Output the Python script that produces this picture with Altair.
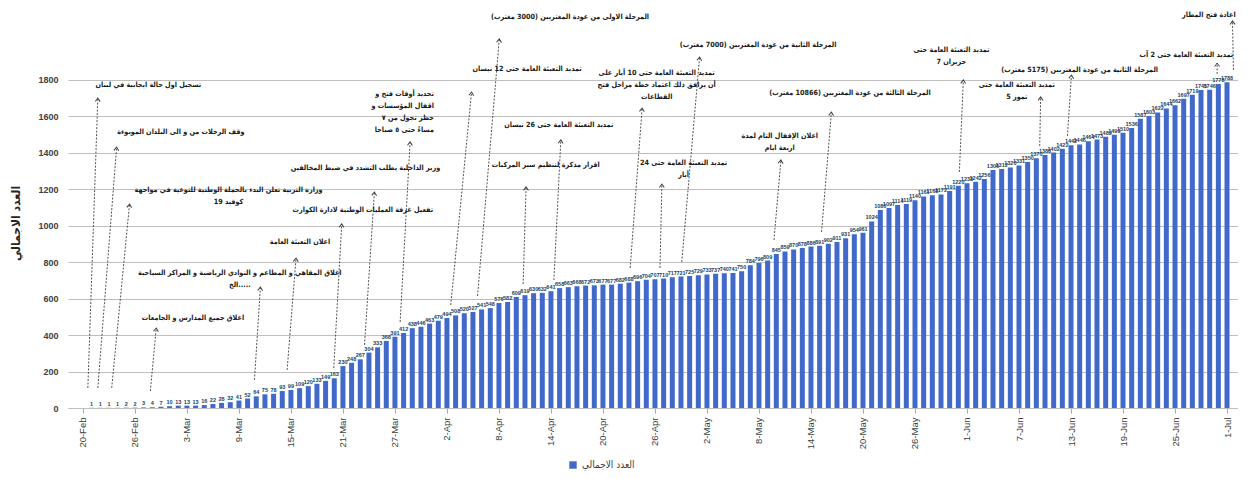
import math
import altair as alt
import pandas as pd

# ---------------- data ----------------
start_date = "2020-02-21"
end_date = "2020-07-01"
origin_date = "2020-02-20"
series_name = "العدد الاجمالي"

values = [
    1, 1, 1, 1, 2, 2, 3, 4, 7, 10,
    13, 13, 13, 16, 22, 28, 32, 41, 52, 64,
    75, 78, 93, 99, 109, 120, 133, 149, 163, 230,
    248, 267, 304, 333, 368, 391, 412, 438, 446, 463,
    479, 494, 508, 520, 527, 541, 548, 576, 582, 609,
    619, 630, 632, 641, 658, 663, 668, 672, 673, 677,
    677, 682, 688, 696, 704, 707, 710, 717, 721, 725,
    729, 733, 737, 740, 741, 750, 784, 796, 809, 845,
    859, 870, 878, 886, 891, 902, 911, 931, 954, 961,
    1024, 1086, 1097, 1114, 1119, 1140, 1161, 1168, 1172, 1191,
    1220, 1233, 1242, 1256, 1306, 1312, 1320, 1331, 1350, 1370,
    1388, 1402, 1422, 1442, 1446, 1464, 1473, 1489, 1499, 1510,
    1536, 1587, 1603, 1622, 1644, 1662, 1697, 1719, 1745, 1746,
    1778, 1788,
]

tick_labels = ["20-Feb", "26-Feb", "3-Mar", "9-Mar", "15-Mar", "21-Mar", "27-Mar",
               "2-Apr", "8-Apr", "14-Apr", "20-Apr", "26-Apr", "2-May", "8-May",
               "14-May", "20-May", "26-May", "1-Jun", "7-Jun", "13-Jun", "19-Jun",
               "25-Jun", "1-Jul"]
tick_days = [0, 6, 12, 18, 24, 30, 36, 42, 48, 54, 60, 66, 72, 78, 84, 90, 96,
             102, 108, 114, 120, 126, 132]
y_ticks = [0, 200, 400, 600, 800, 1000, 1200, 1400, 1600, 1800]

# annotations (text lines, position in days / cumulative count)
ann_text = [
    ["تسجيل اول حالة ايجابية في لبنان"],
    ["وقف الرحلات من و الى البلدان الموبوءة"],
    ["وزارة التربية تعلن البدء بالحملة الوطنية للتوعية في مواجهة", "كوفيد 19"],
    ["اغلاق جميع المدارس و الجامعات"],
    ["اغلاق المقاهي و المطاعم و النوادي الرياضية و المراكز السياحية", "الخ....."],
    ["اعلان التعبئة العامة"],
    ["تفعيل غرفة العمليات الوطنية لادارة الكوارث"],
    ["وزير الداخلية يطلب التشدد في ضبط المخالفين"],
    ["تحديد أوقات فتح و", "اقفال المؤسسات و", "حظر تجول من ٧", "مساءً حتى ٥ صباحا"],
    ["تمديد التعبئة العامة حتى 12 نيسان"],
    ["المرحلة الاولى من عودة المغتربين (3000 مغترب)"],
    ["تمديد التعبئة العامة حتى 26 نيسان"],
    ["اقرار مذكرة لتنظيم سير المركبات"],
    ["تمديد التعبئة العامة حتى 10 أيار على", "أن يرافق ذلك اعتماد خطة مراحل فتح", "القطاعات"],
    ["المرحلة الثانية من عودة المغتربين (7000 مغترب)"],
    ["تمديد التعبئة العامة حتى 24", "أيار"],
    ["اعلان الإقفال التام لمدة", "اربعة ايام"],
    ["المرحلة الثالثة من عودة المغتربين (10866 مغترب)"],
    ["تمديد التعبئة العامة حتى", "حزيران 7"],
    ["تمديد التعبئة العامة حتى", "تموز 5"],
    ["المرحلة الثانية من عودة المغتربين (5175 مغترب)"],
    ["تمديد التعبئة العامة حتى 2 آب"],
    ["اعادة فتح المطار"],
]
ann_x = [7.55, 11.3, 16.8, 12.7, 18.1, 25.05, 32.3, 32.6, 40.5, 51.25, 56.2, 54.9,
         53.4, 66.2, 77.9, 69.3, 80.4, 88.5, 100.2, 107.75, 115.0, 121.9, 129.9]
ann_y = [1772, 1515, 1196, 494, 741, 911, 1087, 1317, 1723, 1860, 2146, 1553,
         1333, 1838, 1992, 1344, 1493, 1729, 1965, 1772, 1855, 1937, 2157]
ann_align = ["center"] * 23
ann_align[8] = "right"
ann_align[21] = "left"
line_step = 66

arr_x0 = [0.57, 1.72, 3.32, 7.78, 19.79, 23.56, 28.94, 32.49, 36.6, 42.44, 45.53, 54.34,
          50.79, 63.14, 69.09, 66.58, 79.73, 85.22, 101.12, 110.39, 113.59, 130.86, 132.74]
arr_y0 = [110, 110, 110, 93, 154, 209, 219, 346, 472, 565, 615, 702,
          680, 768, 801, 768, 922, 966, 1295, 1438, 1493, 1833, 1855]
arr_x1 = [1.72, 3.89, 5.38, 8.46, 20.48, 24.59, 29.86, 33.63, 37.75, 44.84, 48.04, 55.14,
          51.13, 64.52, 71.15, 66.8, 80.53, 86.36, 101.58, 110.5, 114.05, 130.86, 132.63]
arr_y1 = [1701, 1432, 1119, 439, 664, 823, 1010, 1185, 1460, 1734, 2025, 1471,
          1213, 1646, 1926, 1229, 1361, 1624, 1800, 1707, 1827, 1893, 2124]

# ---------------- layout ----------------
W, H = 1170, 400
x_dom = [-1.144, 132.69]
y_dom = [0, 2195]
bar_color = "#4169C9"
ink = "#1a1a1a"
ar_font = "DejaVu Sans Condensed"

dates = pd.date_range(start_date, end_date, freq="D")
days = (dates - pd.Timestamp(origin_date)).days
bars_df = pd.DataFrame({"day": days, "value": values, "series": series_name})

rows = []
for lines, x, y, al in zip(ann_text, ann_x, ann_y, ann_align):
    for i, t in enumerate(lines):
        if t.endswith(")"):
            t = t + "\u200f"
        rows.append({"t": t, "x": x, "y": y - i * line_step, "al": al})
text_df = pd.DataFrame(rows)

ppx = W / (x_dom[1] - x_dom[0])
ppy = H / (y_dom[1] - y_dom[0])
angles = []
for a, b, c, d in zip(arr_x0, arr_y0, arr_x1, arr_y1):
    ang = math.degrees(math.atan2((c - a) * ppx, (d - b) * ppy)) % 360
    angles.append(ang)
arrow_df = pd.DataFrame({"x0": arr_x0, "y0": arr_y0, "x1": arr_x1, "y1": arr_y1, "ang": angles})

xscale = alt.Scale(domain=x_dom, nice=False, zero=False)
yscale = alt.Scale(domain=y_dom, nice=False, zero=False)

label_expr = "[" + ",".join("'%s'" % s for s in tick_labels) + "][round(datum.value/6)]"


def xaxis():
    return alt.Axis(values=tick_days, labelExpr=label_expr, title=None, labelAngle=270,
                    labelAlign="right", labelBaseline="middle", labelFontSize=9.5,
                    labelFont="Liberation Sans", labelColor="#404040", labelPadding=4,
                    tickSize=5, tickColor="#a6a6a6", domainColor="#bfbfbf", grid=False,
                    labelOverlap=False)


def yaxis():
    return alt.Axis(values=y_ticks, title=series_name, titleFont=ar_font, titleFontSize=12,
                    titleFontWeight="bold", titleColor="#262626", titleX=-53, titleY=215,
                    titleAngle=270, titleAlign="center", titleBaseline="middle",
                    labelFont="Liberation Sans", labelFontSize=9, labelFontWeight="bold",
                    labelColor="#404040", labelPadding=10, ticks=False, domain=False,
                    grid=True, gridColor="#bfbfbf", gridWidth=1, format="d")


def X(f):
    return alt.X(f, scale=xscale, axis=xaxis())


def Y(f):
    return alt.Y(f, scale=yscale, axis=yaxis())


bars = alt.Chart(bars_df).mark_bar(size=5).encode(
    x=X("day:Q"),
    y=Y("value:Q"),
    color=alt.Color("series:N", scale=alt.Scale(range=[bar_color]),
                    legend=alt.Legend(orient="none", legendX=500, legendY=452, title=None,
                                      symbolType="square", symbolSize=55,
                                      symbolStrokeWidth=0, labelFont=ar_font,
                                      labelFontSize=10, labelColor="#404040")),
)

vlabels = alt.Chart(bars_df).mark_text(dy=-4, fontSize=5.5, fontWeight="bold",
                                        color="#243f60", font="Liberation Sans").encode(
    x=X("day:Q"),
    y=Y("value:Q"),
    text="value:Q",
)

rules = alt.Chart(arrow_df).mark_rule(strokeDash=[2, 1.5], color="#404040",
                                      strokeWidth=0.9).encode(
    x=X("x0:Q"),
    y=Y("y0:Q"),
    x2="x1:Q",
    y2="y1:Q",
)

heads = alt.Chart(arrow_df).mark_point(shape="M-0.7,1L0,0L0.7,1", filled=False, size=49,
                                       color="#404040", strokeWidth=1, opacity=1).encode(
    x=X("x1:Q"),
    y=Y("y1:Q"),
    angle=alt.Angle("ang:Q", scale=None),
)

text_layers = []
for al in ["center", "right", "left"]:
    text_layers.append(
        alt.Chart(text_df).transform_filter(alt.datum.al == al).mark_text(
            align=al, baseline="middle", font=ar_font, fontSize=7.2, fontWeight="bold",
            color=ink).encode(
            x=X("x:Q"),
            y=Y("y:Q"),
            text="t:N",
        )
    )

chart = alt.layer(bars, vlabels, rules, heads, *text_layers).properties(
    width=W, height=H,
    autosize=alt.AutoSizeParams(type="none"),
    padding={"left": 60, "top": 0, "right": 0, "bottom": 66},
    background="white",
).configure_view(stroke=None)

chart.save("out.html", embed_options={"renderer": "svg", "actions": False})
